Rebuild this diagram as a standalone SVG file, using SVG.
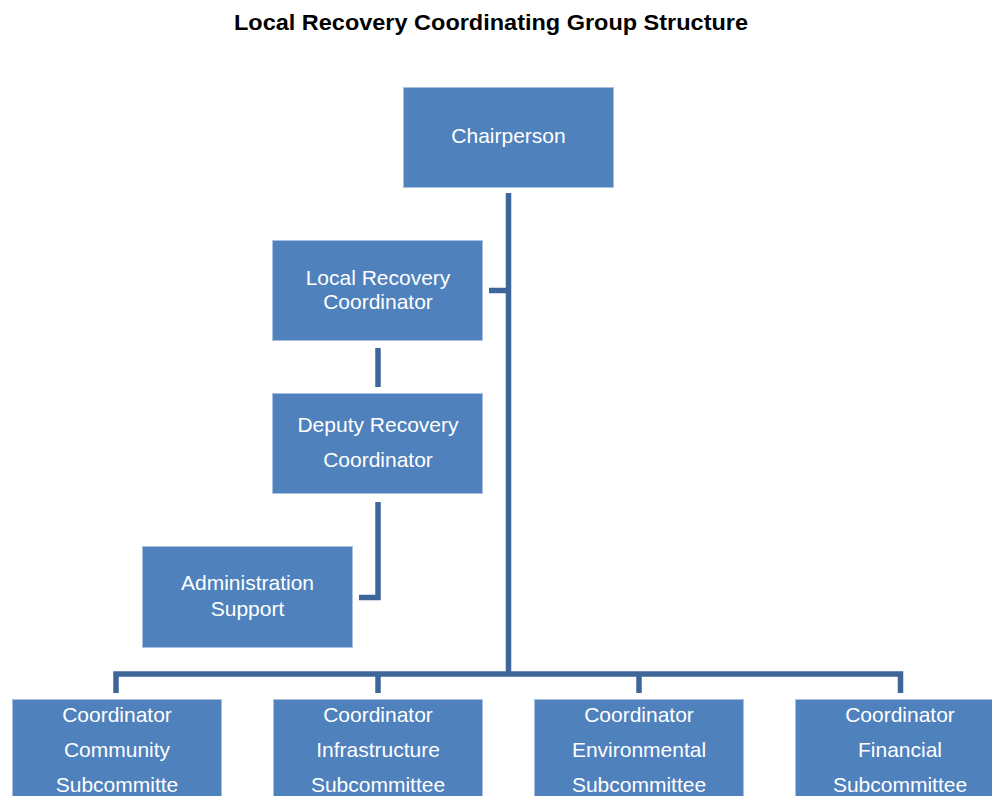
<svg xmlns="http://www.w3.org/2000/svg" width="992" height="796" viewBox="0 0 992 796">
<style>
.box{fill:#4F81BD;stroke:#A9C1E1;stroke-width:1}
.lbl{fill:#FFFFFF;font-family:"Liberation Sans",Arial,sans-serif;font-size:21px;text-anchor:middle}
.title{fill:#000000;font-family:"Liberation Sans",Arial,sans-serif;font-size:22.5px;font-weight:bold;text-anchor:middle}
.con{fill:none;stroke:#3F6698;stroke-width:5.5}
</style>
<rect width="992" height="796" fill="#FFFFFF"/>
<text class="title" x="491" y="30" textLength="514" lengthAdjust="spacingAndGlyphs">Local Recovery Coordinating Group Structure</text>
<g id="connectors">
<path class="con" d="M508.5 193 V674"/>
<path class="con" d="M489 290.5 H508.5"/>
<path class="con" d="M378 348 V387"/>
<path class="con" d="M378 502 V597.5 H359"/>
<path class="con" d="M116 693 V674 H900.5 V693"/>
<path class="con" d="M378 674 V693"/>
<path class="con" d="M639 674 V693"/>
</g>
<g id="chairperson">
<rect class="box" x="403.5" y="87.5" width="210" height="100"/>
<text class="lbl" x="508.5" y="143">Chairperson</text>
</g>
<g id="local-recovery-coordinator">
<rect class="box" x="272.5" y="240.5" width="210" height="100"/>
<text class="lbl" x="378" y="285">Local Recovery</text>
<text class="lbl" x="378" y="309">Coordinator</text>
</g>
<g id="deputy-recovery-coordinator">
<rect class="box" x="272.5" y="393.5" width="210" height="100"/>
<text class="lbl" x="378" y="432">Deputy Recovery</text>
<text class="lbl" x="378" y="467">Coordinator</text>
</g>
<g id="administration-support">
<rect class="box" x="142.5" y="546.5" width="210" height="101"/>
<text class="lbl" x="247.5" y="590">Administration</text>
<text class="lbl" x="247.5" y="616">Support</text>
</g>
<g id="community">
<rect class="box" x="12.5" y="699.5" width="209" height="110"/>
<text class="lbl" x="117" y="722">Coordinator</text>
<text class="lbl" x="117" y="757">Community</text>
<text class="lbl" x="117" y="792">Subcommitte</text>
</g>
<g id="infrastructure">
<rect class="box" x="273.5" y="699.5" width="209" height="110"/>
<text class="lbl" x="378" y="722">Coordinator</text>
<text class="lbl" x="378" y="757">Infrastructure</text>
<text class="lbl" x="378" y="792">Subcommittee</text>
</g>
<g id="environmental">
<rect class="box" x="534.5" y="699.5" width="209" height="110"/>
<text class="lbl" x="639" y="722">Coordinator</text>
<text class="lbl" x="639" y="757">Environmental</text>
<text class="lbl" x="639" y="792">Subcommittee</text>
</g>
<g id="financial">
<rect class="box" x="795.5" y="699.5" width="209" height="110"/>
<text class="lbl" x="900" y="722">Coordinator</text>
<text class="lbl" x="900" y="757">Financial</text>
<text class="lbl" x="900" y="792">Subcommittee</text>
</g>
</svg>
